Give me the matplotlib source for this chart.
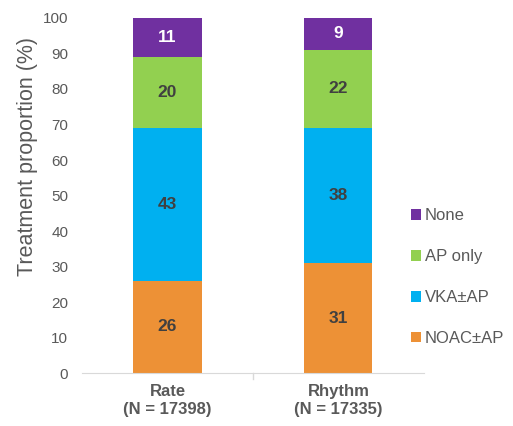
import matplotlib
matplotlib.use('Agg')
import matplotlib.pyplot as plt
import numpy as np

plt.rcParams['font.family'] = ['Liberation Sans', 'DejaVu Sans']

groups = ['Rate\n(N = 17398)', 'Rhythm\n(N = 17335)']
noac = [26, 31]
vka = [43, 38]
ap_only = [20, 22]
none = [11, 9]

series = [('NOAC\u00b1AP', noac, '#ED9136', '#404040'),
          ('VKA\u00b1AP', vka, '#00B0F0', '#404040'),
          ('AP only', ap_only, '#92D050', '#404040'),
          ('None', none, '#7030A0', 'white')]

fig = plt.figure(figsize=(5.13, 4.26), dpi=100)
ax = fig.add_axes([0.160, 0.124, 0.666, 0.834])

x = np.arange(len(groups))
bottom = np.zeros(len(groups))
handles = []
for name, vals, col, tcol in series:
    b = ax.bar(x, vals, 0.4, bottom=bottom, color=col, label=name)
    handles.append(b)
    for xi, v, bt in zip(x, vals, bottom):
        ax.text(xi, bt + v / 2, str(v), ha='center', va='center',
                fontsize=12.5, fontweight='bold', color=tcol)
    bottom += np.array(vals)

ax.set_xlim(-0.5, 1.5)
ax.set_ylim(0, 100)
ax.set_yticks(range(0, 101, 10))
ax.set_xticks(x)
ax.set_xticklabels(groups, fontsize=12, fontweight='bold', color='#595959',
                   linespacing=1.25)
ax.tick_params(axis='y', length=0, labelsize=11, labelcolor='#595959', pad=10)
ax.tick_params(axis='x', length=0, pad=8)
for s in ['top', 'right', 'left']:
    ax.spines[s].set_visible(False)
ax.spines['bottom'].set_color('#D9D9D9')
ax.axvline(0.5, ymin=-0.015, ymax=0, color='#D9D9D9', lw=1, clip_on=False)
ax.set_ylabel('Treatment proportion (%)', fontsize=15.5, color='#595959')
ax.yaxis.set_label_coords(-0.13, 0.61)

ax.legend(handles[::-1], [s[0] for s in series][::-1], loc='center left',
          bbox_to_anchor=(0.92, 0.27), frameon=False, fontsize=12,
          labelcolor='#595959', handlelength=0.6, handleheight=0.6,
          handletextpad=0.2, labelspacing=1.55)

fig.savefig('out.png')
